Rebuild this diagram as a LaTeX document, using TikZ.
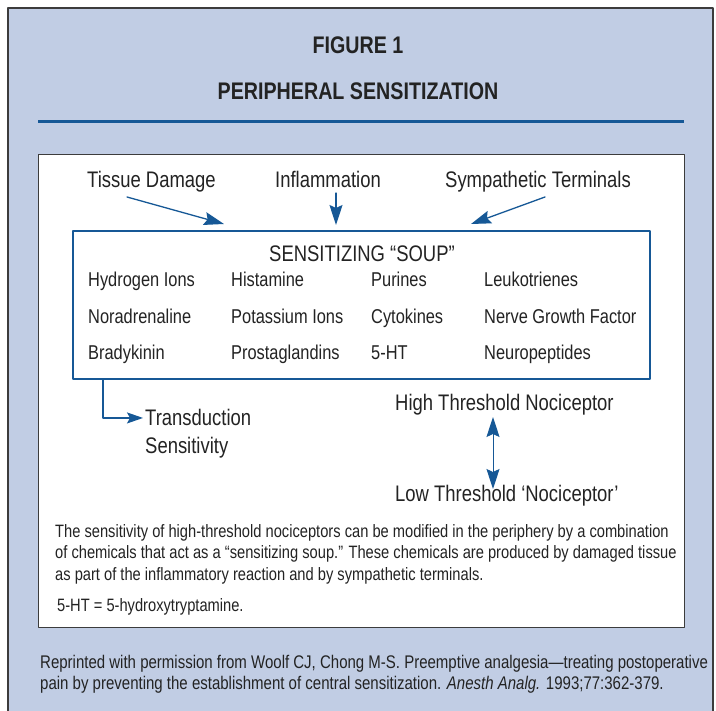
\documentclass[tikz,border=0pt]{standalone}
\usepackage{fontspec}
\setmainfont{Liberation Sans}[FakeStretch=0.82]
\usetikzlibrary{arrows.meta}
\definecolor{panelbg}{RGB}{193,205,228}
\definecolor{figblue}{RGB}{22,88,150}
\definecolor{inkgray}{RGB}{35,35,35}
\definecolor{framegray}{RGB}{60,60,60}

\begin{document}
\begin{tikzpicture}[x=1pt,y=-1pt,line cap=round,line join=round,
  >={Stealth[length=20pt,width=13pt,inset=3pt]},
  lbl/.style={anchor=base west,inner sep=0pt,text=inkgray,font=\fontsize{22.5}{26}\selectfont},
  item/.style={lbl,font=\fontsize{20}{24}\selectfont},
  note/.style={anchor=base west,inner sep=0pt,text=inkgray,font=\fontsize{17.9}{20}\selectfont},
  head/.style={anchor=base,inner sep=0pt,text=inkgray,font=\fontsize{24}{28}\selectfont\bfseries},
  feed/.style={figblue,line width=1.3pt}]
	\useasboundingbox (0,0) rectangle (716,711);
	\clip (0,0) rectangle (716,711);
	% panel and frames
	\draw[framegray,line width=1.5pt,fill=panelbg] (8,8) rectangle (713,730);
	\draw[figblue,line width=3pt,line cap=butt] (38,122) -- (684,122);
	\draw[framegray,line width=1pt,fill=white] (38,155) rectangle (684,628);
	% title
	\node[head] (fig) at (358,54) {FIGURE 1};
	\node[head] (title) at (358,100) {PERIPHERAL SENSITIZATION};
	% sources
	\node[lbl] (tissue) at (87,188) {Tissue Damage};
	\node[lbl] (infl) at (275,188) {Inflammation};
	\node[lbl] (symp) at (445,188) {Sympathetic Terminals};
	% the soup
	\node[draw=figblue,line width=1.3pt,minimum width=577pt,minimum height=148pt,inner sep=0pt] (soup) at (361.5,305) {};
	\node[lbl,anchor=base] (souptitle) at (362,262) {SENSITIZING “SOUP”};
	\node[item] (h1) at (88,287) {Hydrogen Ions};
	\node[item] (h2) at (231,287) {Histamine};
	\node[item] (h3) at (371,287) {Purines};
	\node[item] (h4) at (484,287) {Leukotrienes};
	\node[item] (n1) at (88,324) {Noradrenaline};
	\node[item] (n2) at (231,324) {Potassium Ions};
	\node[item] (n3) at (371,324) {Cytokines};
	\node[item] (n4) at (484,324) {Nerve Growth Factor};
	\node[item] (b1) at (88,360) {Bradykinin};
	\node[item] (b2) at (231,360) {Prostaglandins};
	\node[item] (b3) at (371,360) {5-HT};
	\node[item] (b4) at (484,360) {Neuropeptides};
	% inputs into the soup
	\coordinate (tissueout) at (127,197);
	\coordinate (inflout) at (336,193);
	\coordinate (sympout) at (545,197);
	\coordinate (tissuein) at (224,224);
	\coordinate (inflin) at (336,225);
	\coordinate (sympin) at (471,224);
	\draw[feed,->] (tissueout) -- (tissuein);
	\draw[feed,->] (inflout) -- (inflin);
	\draw[feed,->] (sympout) -- (sympin);
	% outputs
	\node[lbl] (trans) at (145,426) {Transduction};
	\node[lbl] (sens) at (145,454) {Sensitivity};
	\coordinate (transout) at (103,379);
	\draw[feed,-{Stealth[length=16pt,width=11pt,inset=3pt]},line cap=butt] (transout) |- ([xshift=-2pt]trans.west);
	\node[lbl] (high) at (395,411) {High Threshold Nociceptor};
	\node[lbl] (low) at (395,502) {Low Threshold ‘Nociceptor’};
	\coordinate (hightip) at (493,417);
	\coordinate (lowtip) at (493,489);
	\draw[feed,<->,line width=1pt] (hightip) -- (lowtip);
	% caption
	\node[note] (cap1) at (55,538) {The sensitivity of high-threshold nociceptors can be modified in the periphery by a combination};
	\node[note] (cap2) at (55,559) {of chemicals that act as a “sensitizing soup.” These chemicals are produced by damaged tissue};
	\node[note] (cap3) at (55,581) {as part of the inflammatory reaction and by sympathetic terminals.};
	\node[note] (abbr) at (57,612) {5-HT = 5-hydroxytryptamine.};
	\node[note,font=\fontsize{18.3}{20}\selectfont] (ref1) at (40,668) {Reprinted with permission from Woolf CJ, Chong M-S. Preemptive analgesia—treating postoperative};
	\node[note,font=\fontsize{18.3}{20}\selectfont] (ref2) at (40,689) {pain by preventing the establishment of central sensitization. \textit{Anesth Analg.} 1993;77:362-379.};
\end{tikzpicture}
\end{document}
